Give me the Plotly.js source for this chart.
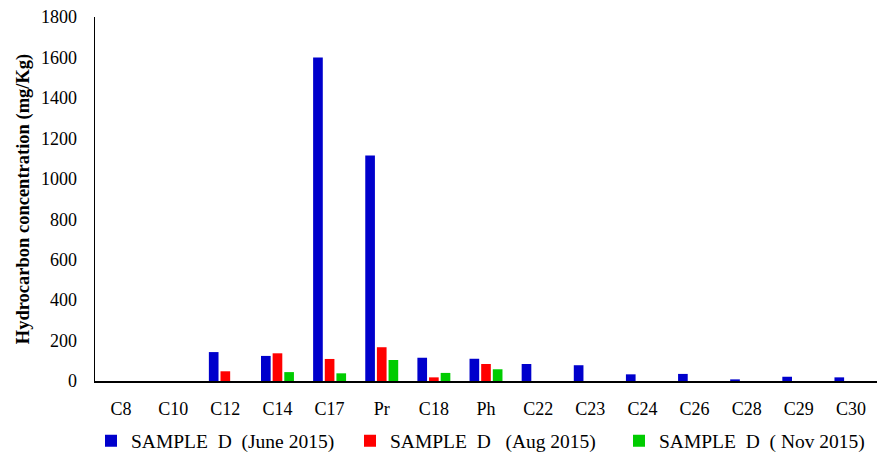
<!DOCTYPE html>
<html>
<head>
<meta charset="utf-8">
<script src="https://cdn.plot.ly/plotly-3.0.1.min.js"></script>
<style>html,body{margin:0;padding:0;background:#fff;}#chart{width:883px;height:454px;}</style>
</head>
<body>
<div id="chart"></div>
<script>
const categories = ["C8","C10","C12","C14","C17","Pr","C18","Ph","C22","C23","C24","C26","C28","C29","C30"];
const juneValues = [0,0,143,124,1600,1115,115,110,84,78,33,35,8,21,18];
const augValues  = [0,0,48,137,109,167,18,84,0,0,0,0,0,0,0];
const novValues  = [0,0,0,44,38,104,40,58,0,0,0,0,0,0,0];
const seriesNames = ["SAMPLE\u00a0\u00a0D\u00a0\u00a0(June 2015)","SAMPLE\u00a0\u00a0D\u00a0\u00a0\u00a0(Aug 2015)","SAMPLE\u00a0\u00a0D\u00a0\u00a0(\u00a0Nov 2015)"];
const yTicks = [0,200,400,600,800,1000,1200,1400,1600,1800];

const fam = "Liberation Serif, Times New Roman, serif";
const tickFont = {family: fam, size: 18, color: "#000"};
const legFont = {family: fam, size: 19.5, color: "#000"};
const mk = (name, vals, color, leg) => ({type: "bar", name: name, x: categories, y: vals, marker: {color: color}, hoverinfo: "skip", legend: leg});
const data = [
  mk(seriesNames[0], juneValues, "#0000CC", "legend"),
  mk(seriesNames[1], augValues, "#FF0000", "legend2"),
  mk(seriesNames[2], novValues, "#00CC00", "legend3")
];
const plotL = 95, plotW = 782;
const legAt = (textStartPx) => ({
  orientation: "h", xref: "paper", yref: "container",
  x: (textStartPx - 40 - plotL) / plotW, y: 1 - 441/454,
  xanchor: "left", yanchor: "middle", font: legFont, bgcolor: "rgba(0,0,0,0)", borderwidth: 0
});
const layout = {
  width: 883, height: 454,
  margin: {l: plotL, r: 883 - plotL - plotW, t: 17, b: 73},
  paper_bgcolor: "#fff", plot_bgcolor: "#fff",
  font: tickFont,
  barmode: "group", bargap: 0.33, bargroupgap: 0.17,
  showlegend: true,
  legend: legAt(131),
  legend2: legAt(390),
  legend3: legAt(659),
  xaxis: {showline: true, linecolor: "#000", linewidth: 2, ticks: "", showgrid: false, zeroline: false, tickfont: tickFont, ticklabelstandoff: 10, fixedrange: true},
  yaxis: {range: [0, 1800], tickvals: yTicks, showline: true, linecolor: "#000", linewidth: 1.5, ticks: "", showgrid: false, zeroline: false, tickfont: tickFont, ticklabelstandoff: 13,
    title: {text: "<b>Hydrocarbon concentration (mg/Kg)</b>", font: {family: fam, size: 18.5, color: "#000"}, standoff: 6}}
};
Plotly.newPlot("chart", data, layout, {displayModeBar: false, staticPlot: true});
</script>
</body>
</html>
